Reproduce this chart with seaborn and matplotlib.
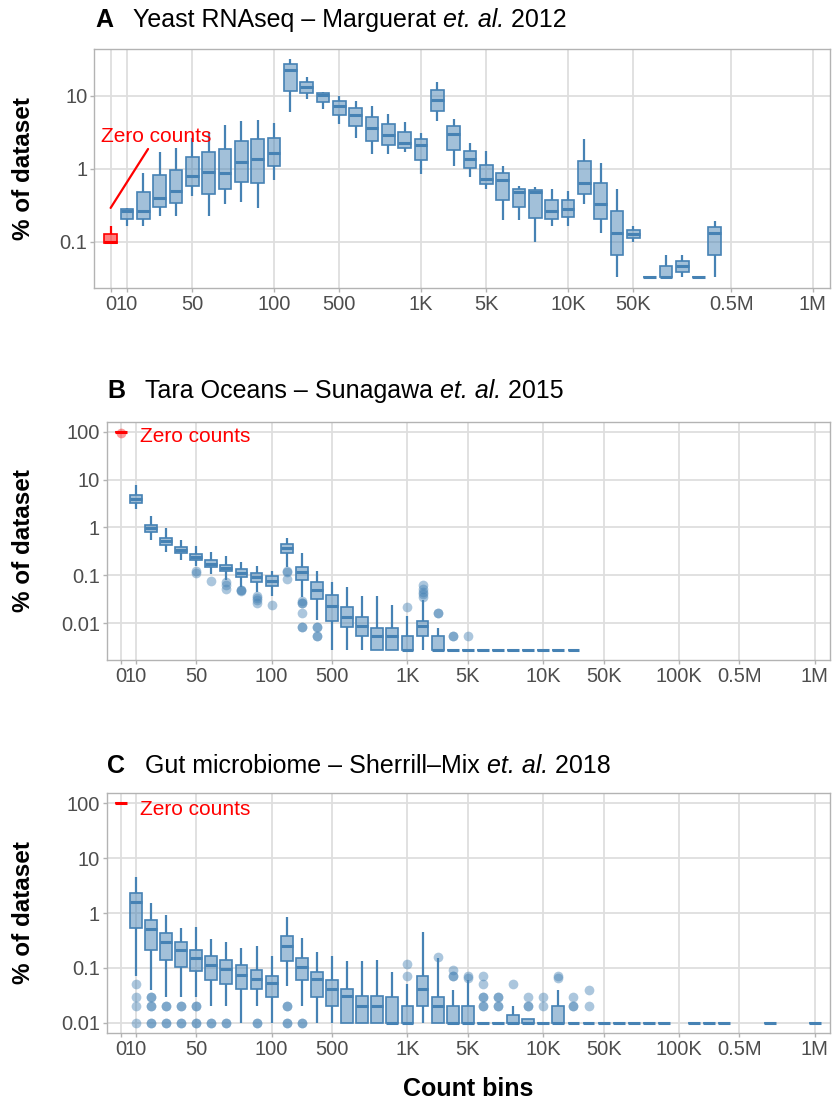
import numpy as np
import pandas as pd
import matplotlib
matplotlib.use("Agg")
import matplotlib.pyplot as plt
from matplotlib.ticker import NullLocator
import seaborn as sns

sns.set_theme(style="whitegrid")
plt.rcParams["font.family"] = ["Liberation Sans", "DejaVu Sans"]
plt.rcParams["text.color"] = "black"
plt.rcParams["axes.labelcolor"] = "black"

W, H = 832, 1102
NAN = np.nan

BLUE = "#4682b4"
BLUE_FILL = (70 / 255, 130 / 255, 180 / 255, 0.5)
RED = "#ff0000"
RED_FILL = (1.0, 0.0, 0.0, 0.5)
GRID = "#dedede"
FRAME = "#b3b3b3"
TICKTXT = "#4d4d4d"

# ---------------------------------------------------------------- bins
bins_full = ["0", "10", "20", "30", "40", "50", "60", "70", "80", "90", "100",
             "200", "300", "400", "500", "600", "700", "800", "900", "1K",
             "2K", "3K", "4K", "5K", "6K", "7K", "8K", "9K", "10K",
             "20K", "30K", "40K", "50K", "60K", "70K", "80K", "90K", "100K",
             "200K", "300K", "400K", "500K", "600K", "700K", "800K", "900K", "1M"]
bins_yeast = ["0", "10", "20", "30", "40", "50", "60", "70", "80", "90", "100",
              "200", "300", "400", "500", "600", "700", "800", "900", "1K",
              "2K", "3K", "4K", "5K", "6K", "7K", "8K", "9K", "10K",
              "20K", "30K", "40K", "50K", "60K", "70K", "80K", "90K", "100K",
              "500K", "600K", "700K", "800K", "900K", "1M"]

ticks_yeast = ["0", "10", "50", "100", "500", "1K", "5K", "10K", "50K", "500K", "1M"]
ticklabels_yeast = ["0", "10", "50", "100", "500", "1K", "5K", "10K", "50K", "0.5M", "1M"]
ticks_full = ["0", "10", "50", "100", "500", "1K", "5K", "10K", "50K", "100K", "500K", "1M"]
ticklabels_full = ["0", "10", "50", "100", "500", "1K", "5K", "10K", "50K", "100K", "0.5M", "1M"]

# ------------------------------------------- A: yeast RNAseq (% of dataset)
yeast_lo = [0.097, 0.162, 0.162, 0.227, 0.227, 0.427, 0.227, 0.324, 0.353, 0.292, 0.71,
            5.9, 9.1, 6.58, 4.13, 2.60, 1.60, 1.57, 1.67, 0.85,
            4.45, 1.08, 0.76, 0.52, 0.196, 0.198, 0.098, 0.162, 0.162,
            0.328, 0.131, 0.033, 0.099, 0.033, 0.033, 0.033, 0.033, 0.033,
            NAN, NAN, NAN, NAN, NAN, NAN]
yeast_q1 = [0.097, 0.205, 0.205, 0.30, 0.339, 0.573, 0.45, 0.527, 0.664, 0.637, 1.08,
            11.5, 10.9, 8.19, 5.44, 3.80, 2.39, 2.13, 1.94, 1.33,
            6.17, 1.80, 1.01, 0.617, 0.368, 0.30, 0.211, 0.206, 0.215,
            0.45, 0.206, 0.065, 0.111, 0.033, 0.033, 0.0388, 0.033, 0.065,
            NAN, NAN, NAN, NAN, NAN, NAN]
yeast_med = [0.100, 0.263, 0.263, 0.397, 0.495, 0.785, 0.89, 0.86, 1.24, 1.37, 1.62,
             22.2, 13.0, 10.1, 7.13, 5.49, 3.57, 2.92, 2.25, 2.11,
             8.73, 2.99, 1.37, 0.73, 0.69, 0.474, 0.474, 0.263, 0.283,
             0.63, 0.328, 0.131, 0.127, 0.033, 0.033, 0.0465, 0.033, 0.131,
             NAN, NAN, NAN, NAN, NAN, NAN]
yeast_q3 = [0.127, 0.28, 0.484, 0.82, 0.97, 1.45, 1.71, 1.86, 2.39, 2.58, 2.63,
            26.8, 15.6, 11.0, 8.46, 6.85, 5.05, 4.10, 3.14, 2.55,
            11.8, 3.80, 1.76, 1.13, 0.87, 0.52, 0.505, 0.368, 0.372,
            1.27, 0.63, 0.263, 0.145, 0.033, 0.0459, 0.055, 0.033, 0.160,
            NAN, NAN, NAN, NAN, NAN, NAN]
yeast_hi = [0.166, 0.29, 0.88, 1.69, 1.94, 2.63, 3.14, 3.97, 4.5, 4.69, 4.23,
            31.8, 18.0, 11.2, 9.9, 8.55, 7.29, 5.67, 4.36, 3.08,
            15.6, 4.84, 2.25, 1.76, 1.10, 0.585, 0.561, 0.527, 0.495,
            2.55, 1.20, 0.527, 0.164, 0.033, 0.0657, 0.0657, 0.033, 0.194,
            NAN, NAN, NAN, NAN, NAN, NAN]
yeast_out_bins = []
yeast_out_vals = []

# ------------------------------------------ B: Tara Oceans (% of dataset)
tara_lo = [98, 2.41, 0.535, 0.305, 0.205, 0.153, 0.108, 0.078, 0.0567, 0.0446, 0.0362,
           0.15, 0.035, 0.0114, 0.0028, 0.0028, 0.0028, 0.0028, 0.0028, 0.0028,
           0.0028, 0.0028, 0.0028, 0.0028, 0.0028, 0.0028, 0.0028, 0.0028, 0.0028,
           0.0028, 0.0028] + [NAN] * 16
tara_q1 = [98, 3.28, 0.813, 0.435, 0.291, 0.205, 0.148, 0.121, 0.0917, 0.0711, 0.0587,
           0.29, 0.078, 0.0325, 0.0111, 0.0083, 0.0054, 0.0028, 0.0028, 0.0028,
           0.0054, 0.0028, 0.0028, 0.0028, 0.0028, 0.0028, 0.0028, 0.0028, 0.0028,
           0.0028, 0.0028] + [NAN] * 16
tara_med = [98, 3.97, 0.986, 0.518, 0.342, 0.236, 0.175, 0.141, 0.113, 0.0917, 0.0757,
            0.37, 0.115, 0.050, 0.0224, 0.0134, 0.0086, 0.0054, 0.0054, 0.0028,
            0.0086, 0.0028, 0.0028, 0.0028, 0.0028, 0.0028, 0.0028, 0.0028, 0.0028,
            0.0028, 0.0028] + [NAN] * 16
tara_q3 = [98, 4.82, 1.14, 0.598, 0.382, 0.273, 0.205, 0.163, 0.133, 0.113, 0.0948,
           0.457, 0.149, 0.0735, 0.038, 0.0214, 0.0134, 0.0081, 0.0081, 0.0054,
           0.0111, 0.0054, 0.0028, 0.0028, 0.0028, 0.0028, 0.0028, 0.0028, 0.0028,
           0.0028, 0.0028] + [NAN] * 16
tara_hi = [98, 7.53, 1.72, 0.953, 0.535, 0.401, 0.311, 0.248, 0.186, 0.159, 0.126,
           0.61, 0.291, 0.126, 0.0711, 0.0567, 0.0375, 0.0362, 0.0243, 0.0139,
           0.030, 0.0081, 0.0028, 0.0028, 0.0028, 0.0028, 0.0028, 0.0028, 0.0028,
           0.0028, 0.0028] + [NAN] * 16
tara_out_bins = ["0",
                 "50", "50", "60", "70", "70", "70", "80", "80", "80",
                 "90", "90", "90", "90", "100",
                 "200", "200", "200",
                 "300", "300", "300", "300", "300", "300",
                 "400", "400", "400", "400",
                 "1K", "2K", "2K", "2K", "2K", "2K",
                 "3K", "3K", "4K", "4K", "5K"]
tara_out_vals = [92,
                 0.126, 0.111, 0.077, 0.071, 0.0615, 0.0508, 0.05, 0.05, 0.047,
                 0.0374, 0.0334, 0.0299, 0.0268, 0.0243,
                 0.126, 0.117, 0.082,
                 0.0285, 0.0268, 0.0268, 0.0166, 0.0082, 0.0082,
                 0.0082, 0.0082, 0.0054, 0.0054,
                 0.0217, 0.0615, 0.0525, 0.0446, 0.040, 0.035,
                 0.0166, 0.0166, 0.0054, 0.0054, 0.0054]

# -------------------------------------- C: gut microbiome (% of dataset)
gut_lo = [100, 0.072, 0.040, 0.030, 0.030, 0.030, 0.020, 0.020, 0.010, 0.020, 0.010,
          0.047, 0.020, 0.010, 0.010, 0.010, 0.010, 0.010, 0.010, 0.010,
          0.010, 0.010, 0.010, 0.010, 0.010, 0.010, 0.010, 0.010, 0.010,
          0.010, 0.010, 0.010, 0.010, 0.010, 0.010, 0.010, 0.010, NAN,
          0.010, 0.010, 0.010, NAN, NAN, 0.010, NAN, NAN, 0.010]
gut_q1 = [100, 0.525, 0.211, 0.141, 0.102, 0.0889, 0.061, 0.0508, 0.041, 0.041, 0.030,
          0.133, 0.061, 0.030, 0.0205, 0.010, 0.010, 0.010, 0.010, 0.010,
          0.0205, 0.010, 0.010, 0.010, 0.010, 0.010, 0.010, 0.010, 0.010,
          0.010, 0.010, 0.010, 0.010, 0.010, 0.010, 0.010, 0.010, NAN,
          0.010, 0.010, 0.010, NAN, NAN, 0.010, NAN, NAN, 0.010]
gut_med = [100, 1.59, 0.518, 0.30, 0.209, 0.149, 0.114, 0.0966, 0.073, 0.0626, 0.053,
           0.247, 0.102, 0.0626, 0.041, 0.031, 0.020, 0.020, 0.010, 0.010,
           0.041, 0.020, 0.010, 0.010, 0.010, 0.010, 0.010, 0.010, 0.010,
           0.010, 0.010, 0.010, 0.010, 0.010, 0.010, 0.010, 0.010, NAN,
           0.010, 0.010, 0.010, NAN, NAN, 0.010, NAN, NAN, 0.010]
gut_q3 = [100, 2.32, 0.745, 0.432, 0.296, 0.215, 0.164, 0.139, 0.113, 0.0927, 0.072,
          0.381, 0.153, 0.0828, 0.061, 0.041, 0.031, 0.031, 0.030, 0.020,
          0.072, 0.030, 0.020, 0.020, 0.010, 0.010, 0.014, 0.012, 0.010,
          0.020, 0.010, 0.010, 0.010, 0.010, 0.010, 0.010, 0.010, NAN,
          0.010, 0.010, 0.010, NAN, NAN, 0.010, NAN, NAN, 0.010]
gut_hi = [100, 4.53, 1.52, 0.933, 0.533, 0.556, 0.34, 0.296, 0.230, 0.254, 0.167,
          0.845, 0.35, 0.194, 0.167, 0.135, 0.135, 0.14, 0.083, 0.05,
          0.45, 0.15, 0.04, 0.06, 0.010, 0.010, 0.020, 0.012, 0.010,
          0.04, 0.010, 0.010, 0.010, 0.010, 0.010, 0.010, 0.010, NAN,
          0.010, 0.010, 0.010, NAN, NAN, 0.010, NAN, NAN, 0.010]
gut_out_bins = ["10", "10", "10", "10",
                "20", "20", "20", "20", "20", "20",
                "30", "30", "30", "30", "40", "40", "40", "40", "50", "50", "50", "50",
                "60", "60", "70", "70", "90", "90",
                "200", "200", "200", "200", "300", "300",
                "1K", "1K", "3K", "4K", "4K", "4K", "5K", "5K",
                "6K", "6K", "6K", "6K", "6K", "6K",
                "7K", "7K", "7K", "7K", "8K", "9K", "9K", "9K",
                "10K", "10K", "20K", "20K", "30K", "30K", "30K", "40K", "40K"]
gut_out_vals = [0.05, 0.03, 0.02, 0.01,
                0.03, 0.03, 0.02, 0.02, 0.01, 0.01,
                0.02, 0.02, 0.01, 0.01, 0.02, 0.02, 0.01, 0.01, 0.02, 0.02, 0.01, 0.01,
                0.01, 0.01, 0.01, 0.01, 0.01, 0.01,
                0.02, 0.02, 0.01, 0.01, 0.01, 0.01,
                0.12, 0.07, 0.16, 0.09, 0.07, 0.07, 0.07, 0.065,
                0.07, 0.05, 0.03, 0.03, 0.02, 0.02,
                0.03, 0.03, 0.02, 0.02, 0.05, 0.03, 0.02, 0.02,
                0.03, 0.02, 0.07, 0.065, 0.03, 0.02, 0.02, 0.04, 0.02]


def five_number_table(bins, lo, q1, med, q3, hi):
    rows = []
    for b, *vals in zip(bins, lo, q1, med, q3, hi):
        if np.isnan(vals[2]):
            continue
        for v in vals:
            rows.append({"bin": b, "pct": v})
    return pd.DataFrame(rows)


def draw_panel(ax, bins, lo, q1, med, q3, hi, out_bins, out_vals,
               ticks, ticklabels, yticks, yticklabels, ylim, xlim):
    ax.set_yscale("log")
    df = five_number_table(bins, lo, q1, med, q3, hi)
    zero = df[df["bin"] == "0"]
    counts = df[df["bin"] != "0"]
    common = dict(x="bin", y="pct", order=bins, whis=(0, 100), width=0.78,
                  showcaps=False, ax=ax)
    for sub, edge, face in ((counts, BLUE, BLUE_FILL), (zero, RED, RED_FILL)):
        sns.boxplot(data=sub, **common,
                    boxprops=dict(facecolor=face, edgecolor=edge, linewidth=1.2),
                    medianprops=dict(color=edge, linewidth=2.2),
                    whiskerprops=dict(color=edge, linewidth=1.6),
                    capprops=dict(linewidth=0))
    if out_bins:
        odf = pd.DataFrame({"bin": out_bins, "pct": out_vals})
        oz = odf[odf["bin"] == "0"]
        oc = odf[odf["bin"] != "0"]
        if len(oc):
            sns.stripplot(data=oc, x="bin", y="pct", order=bins, jitter=False,
                          color=BLUE, alpha=0.45, size=7, linewidth=0, ax=ax)
        if len(oz):
            sns.stripplot(data=oz, x="bin", y="pct", order=bins, jitter=False,
                          color=RED, alpha=0.4, size=7, linewidth=0, ax=ax)

    ax.set_xlim(*xlim)
    ax.set_ylim(*ylim)
    ax.set_xticks([bins.index(t) for t in ticks])
    ax.set_xticklabels(ticklabels)
    ax.set_yticks(yticks)
    ax.set_yticklabels(yticklabels)
    ax.yaxis.set_minor_locator(NullLocator())
    ax.set_xlabel("")
    ax.set_ylabel("")
    ax.set_facecolor("white")
    ax.grid(True, which="major", axis="both", color=GRID, linewidth=1.3)
    ax.set_axisbelow(True)
    for sp in ax.spines.values():
        sp.set_visible(True)
        sp.set_color(FRAME)
        sp.set_linewidth(1.0)
    ax.tick_params(axis="both", which="major", bottom=True, left=True,
                   length=3, width=1.0, color=FRAME, labelsize=14.5,
                   labelcolor=TICKTXT, pad=2)


fig = plt.figure(figsize=(W / 100, H / 100), dpi=100)


def axes_px(left, top, right, bottom):
    return fig.add_axes([left / W, 1 - bottom / H, (right - left) / W, (bottom - top) / H])


axA = axes_px(94.3, 49, 830, 287.7)
axB = axes_px(106.7, 421.7, 830, 660)
axC = axes_px(106.7, 792.7, 830, 1033.3)

draw_panel(axA, bins_yeast, yeast_lo, yeast_q1, yeast_med, yeast_q3, yeast_hi,
           yeast_out_bins, yeast_out_vals, ticks_yeast, ticklabels_yeast,
           [0.1, 1, 10], ["0.1", "1", "10"], (0.0234, 43.6), (-1.0, 44.05))
draw_panel(axB, bins_full, tara_lo, tara_q1, tara_med, tara_q3, tara_hi,
           tara_out_bins, tara_out_vals, ticks_full, ticklabels_full,
           [0.01, 0.1, 1, 10, 100], ["0.01", "0.1", "1", "10", "100"],
           (0.0017, 162), (-0.93, 47.0))
draw_panel(axC, bins_full, gut_lo, gut_q1, gut_med, gut_q3, gut_hi,
           gut_out_bins, gut_out_vals, ticks_full, ticklabels_full,
           [0.01, 0.1, 1, 10, 100], ["0.01", "0.1", "1", "10", "100"],
           (0.00646, 155), (-0.93, 47.0))

# zero-count annotations
axA.annotate("Zero counts", xy=(0, 0.29), xytext=(-0.59, 2.34), textcoords="data",
             color=RED, fontsize=15, ha="left", va="baseline",
             arrowprops=dict(arrowstyle="-", color=RED, lw=1.6, shrinkA=0, shrinkB=0))
axB.text(1.28, 60, "Zero counts", color=RED, fontsize=15, ha="left", va="baseline")
axC.text(1.28, 62, "Zero counts", color=RED, fontsize=15, ha="left", va="baseline")

# panel titles: bold letter, plain text with italic "et. al."
renderer = fig.canvas.get_renderer()
TITLE_SIZE = 18


def panel_title(letter, x_letter, x_text, y_base, before, year):
    fig.text(x_letter / W, 1 - y_base / H, letter, fontsize=TITLE_SIZE, fontweight="bold",
             ha="left", va="baseline", color="black")
    x = x_text
    for txt, style in ((before, "normal"), ("et. al.", "italic"), (" " + year, "normal")):
        t = fig.text(x / W, 1 - y_base / H, txt, fontsize=TITLE_SIZE, fontstyle=style,
                     ha="left", va="baseline", color="black")
        x += t.get_window_extent(renderer).width


panel_title("A", 95, 133, 27, "Yeast RNAseq \u2013 Marguerat ", "2012")
panel_title("B", 107, 145, 398, "Tara Oceans \u2013 Sunagawa ", "2015")
panel_title("C", 107, 145, 772.7, "Gut microbiome \u2013 Sherrill\u2013Mix ", "2018")

for ax in (axA, axB, axC):
    bb = ax.get_position()
    fig.text(24 / W, (bb.y0 + bb.y1) / 2, "% of dataset", rotation=90, fontsize=17.5,
             fontweight="bold", ha="center", va="center", color="black")

fig.text(468 / W, 1 - 1089 / H, "Count bins", fontsize=18, fontweight="bold",
         ha="center", va="center", color="black")

fig.savefig("out.png", dpi=100, facecolor="white")
